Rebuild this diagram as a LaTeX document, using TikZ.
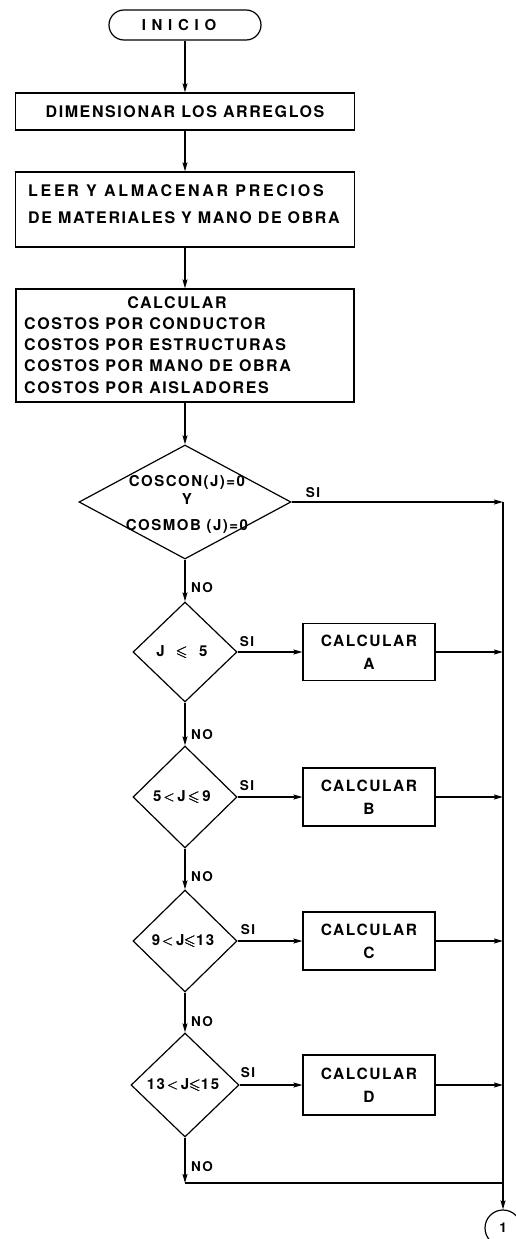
\documentclass[tikz,border=0pt]{standalone}
\usepackage{fontspec}
\usepackage{amsmath,amssymb}
\setmainfont{TeX Gyre Heros}
\newfontfamily\lf[LetterSpace=10]{TeX Gyre Heros}
\newfontfamily\lfm[LetterSpace=17]{TeX Gyre Heros}
\newfontfamily\lfw[LetterSpace=38]{TeX Gyre Heros}
\newcommand{\leqs}{$\pmb{\leqslant}$}
\newcommand{\lts}{$\pmb{<}$}
\usetikzlibrary{shapes.geometric,arrows.meta}
\begin{document}
\begin{tikzpicture}[x=1pt,y=-1pt,
  ln/.style={line width=1.2pt},
  arr/.style={ln,-{Stealth[length=9pt,width=5pt,inset=1.5pt]}},
  proc/.style={draw,ln,rectangle,inner sep=0pt},
  txt/.style={font=\lf\bfseries\fontsize{16}{21}\selectfont,inner sep=0pt},
  btxt/.style={font=\lf\bfseries\fontsize{15.5}{23}\selectfont,align=center},
  dtxt/.style={font=\lf\bfseries\fontsize{15}{18}\selectfont,inner sep=0pt,align=center},
  lbl/.style={font=\lf\bfseries\fontsize{13.5}{15}\selectfont,inner sep=0pt},
  dec/.style={draw,ln,diamond,inner sep=0pt}]
\useasboundingbox (0,0) rectangle (515,1239);

% start and first boxes
\node[proc, rounded corners=15pt, minimum width=152pt, minimum height=30pt] (start) at (185,25) {};
\node[font=\lfw\bfseries\fontsize{15}{16}\selectfont, inner sep=0pt] (tstart) at (179,25.5) {INICIO};
\node[proc, txt, minimum width=339pt, minimum height=37pt] (b1) at (185,111.5) {DIMENSIONAR LOS ARREGLOS};
\node[proc, minimum width=339pt, minimum height=75pt] (b2) at (185,209.5) {};
\node[txt, anchor=west, align=left, font=\lf\bfseries\fontsize{16}{27}\selectfont] (t2) at (28,204) {{\lfm LEER Y ALMACENAR PRECIOS}\\DE MATERIALES Y MANO DE OBRA};
\node[proc, minimum width=338pt, minimum height=113pt] (b3) at (185,345.5) {};
\node[txt] (t3a) at (177,303) {CALCULAR};
\node[txt, anchor=west, align=left, font=\lf\bfseries\fontsize{16}{21.3}\selectfont] (t3b) at (24,355.5) {COSTOS POR CONDUCTOR\\COSTOS POR ESTRUCTURAS\\COSTOS POR MANO DE OBRA\\COSTOS POR AISLADORES};

% decisions
\node[dec, minimum width=212pt, minimum height=114pt] (d0) at (185,502) {};
\node[dtxt] (t0) at (187,504) {COSCON(J)=0\\Y\\[8pt]COSMOB (J)=0};
\node[dec, minimum width=104pt, minimum height=100pt] (d1) at (185,652) {};
\node[dtxt] (td1) at (182,652) {J\ \ \leqs\ \ 5};
\node[dec, minimum width=104pt, minimum height=102pt] (d2) at (185,797) {};
\node[dtxt] (td2) at (182,797) {5\,\lts\,J\,\leqs\,9};
\node[dec, minimum width=104pt, minimum height=102pt] (d3) at (185,941) {};
\node[dtxt] (td3) at (183,941) {9\,\lts\,J\leqs13};
\node[dec, minimum width=108pt, minimum height=104pt] (d4) at (185,1085) {};
\node[dtxt] (td4) at (183,1085) {13\,\lts\,J\leqs15};

% process boxes
\node[proc, btxt, minimum width=132pt, minimum height=57pt] (bA) at (369,652) {CALCULAR\\A};
\node[proc, btxt, minimum width=132pt, minimum height=58pt] (bB) at (369,797) {CALCULAR\\B};
\node[proc, btxt, minimum width=132pt, minimum height=58pt] (bC) at (369,941) {CALCULAR\\C};
\node[proc, btxt, minimum width=132pt, minimum height=60pt] (bD) at (369,1085) {CALCULAR\\D};

% connector circle and coordinates
\node[circle, draw, ln, minimum size=36pt, inner sep=0pt, lbl] (end) at (503,1228) {1};
\coordinate (r0) at (503,502);
\coordinate (c4) at (185,1183);

% labels
\node[lbl] (s0) at (313,493) {SI};
\node[lbl] (s1) at (247,642) {SI};
\node[lbl] (s2) at (247,786) {SI};
\node[lbl] (s3) at (248,930) {SI};
\node[lbl] (s4) at (248,1073) {SI};
\node[lbl] (n0) at (202,588) {NO};
\node[lbl] (n1) at (202,735) {NO};
\node[lbl] (n2) at (202,877) {NO};
\node[lbl] (n3) at (202,1022) {NO};
\node[lbl] (n4) at (202,1167) {NO};

% connectors
\draw[arr] (start) -- (b1);
\draw[arr] (b1) -- (b2);
\draw[arr] (b2) -- (b3);
\draw[arr] (b3) -- (d0);
\draw[arr] (d0) -- (d1);
\draw[arr] (d1) -- (d2);
\draw[arr] (d2) -- (d3);
\draw[arr] (d3) -- (d4);
\draw[arr] (d4) -- (c4);
\draw[ln] (c4) -- (c4 -| r0);
\draw[arr] (d0) -- (r0);
\draw[arr] (r0) -- (end);
\draw[arr] (d1) -- (bA);
\draw[arr] (d2) -- (bB);
\draw[arr] (d3) -- (bC);
\draw[arr] (d4) -- (bD);
\draw[arr] (bA) -- (bA -| r0);
\draw[arr] (bB) -- (bB -| r0);
\draw[arr] (bC) -- (bC -| r0);
\draw[arr] (bD) -- (bD -| r0);
\end{tikzpicture}
\end{document}
